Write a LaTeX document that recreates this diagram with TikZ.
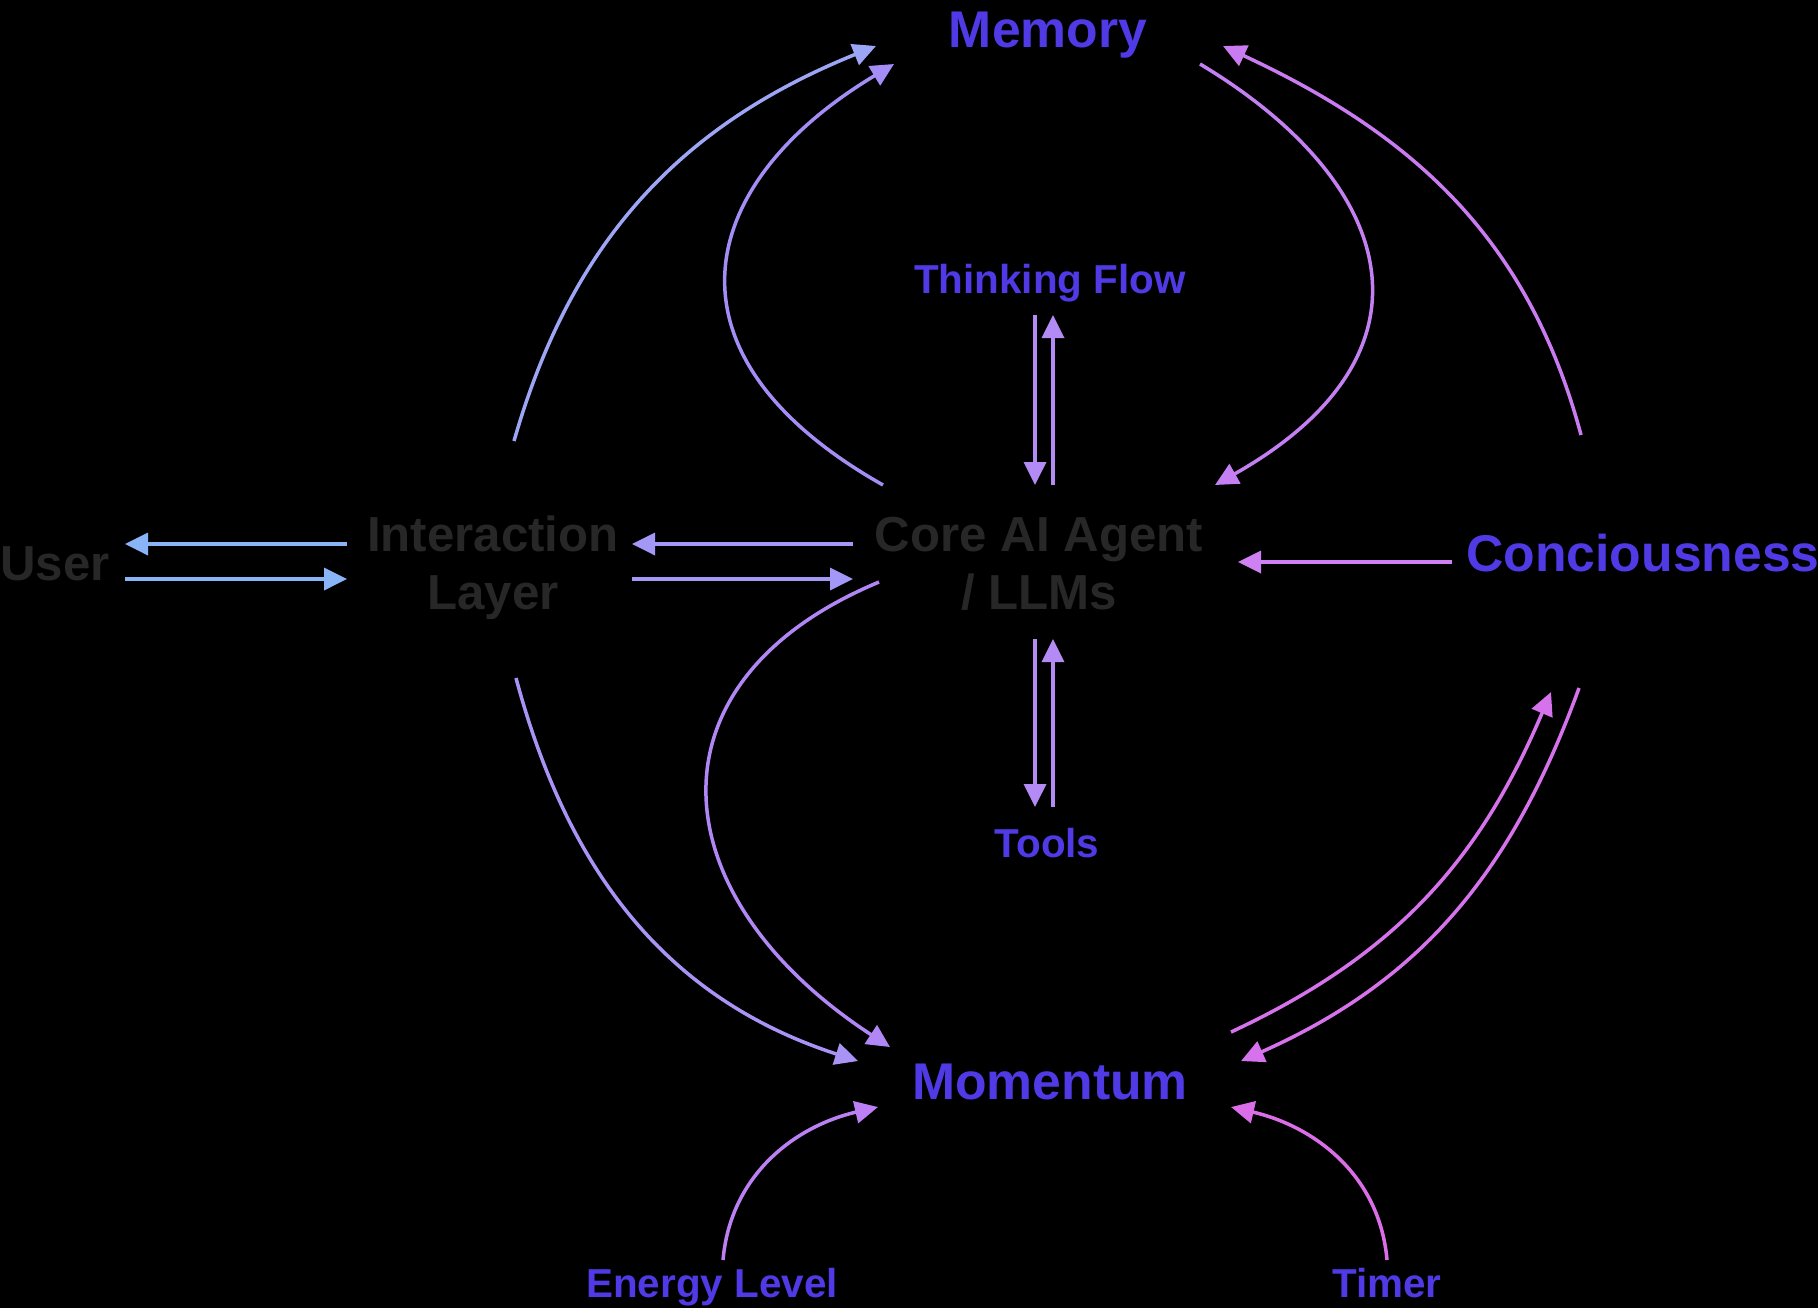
\documentclass[tikz,border=0pt]{standalone}
\usepackage{fontspec}
\setmainfont{Liberation Sans}
\usetikzlibrary{arrows.meta}
\definecolor{LabelBlue}{HTML}{4F3AE5}
\definecolor{AgentGray}{HTML}{272727}
\definecolor{UserBlue}{HTML}{8AB4F8}
\definecolor{InterMem}{HTML}{9DA5F6}
\definecolor{InterCore}{HTML}{A398F6}
\definecolor{InterMom}{HTML}{A993F5}
\definecolor{CoreMem}{HTML}{A48DF5}
\definecolor{CoreMom}{HTML}{B186F5}
\definecolor{ThinkLilac}{HTML}{B48AF5}
\definecolor{EnergyLilac}{HTML}{BC80F4}
\definecolor{MemCore}{HTML}{C480F3}
\definecolor{ConMem}{HTML}{CB7BF1}
\definecolor{ConCore}{HTML}{CF80F2}
\definecolor{ConPink}{HTML}{D672EC}
\definecolor{TimerPink}{HTML}{DC6DE8}

\tikzset{
  big/.style={font=\bfseries\fontsize{14.7}{17}\selectfont,text=LabelBlue,
    text height=10.5pt,text depth=0pt,inner sep=0pt},
  small/.style={font=\bfseries\fontsize{11.5}{13}\selectfont,text=LabelBlue,
    text height=8.2pt,text depth=0pt,inner sep=0pt},
  agent/.style={font=\bfseries\fontsize{14}{16.5}\selectfont,text=AgentGray,
    align=center,inner sep=0pt},
  flow/.style={line width=0.35mm,-{Triangle[length=2.3mm,width=2.2mm]}},
}

\begin{document}
\begin{tikzpicture}[x=0.1mm,y=0.1mm]
  \fill[black] (0,0) rectangle (1818,-1308);
  \useasboundingbox (0,0) rectangle (1818,-1308);

  % labels
  \node[agent,text height=10pt,text depth=0pt] (user) at (55,-563) {User};
  \node[agent] (inter) at (493,-568) {Interaction\\Layer};
  \node[agent] (core) at (1039,-564) {Core AI Agent\\/ LLMs};
  \node[big] (con) at (1643,-553) {Conciousness};
  \node[big] (memory) at (1048,-29) {Memory};
  \node[big] (momentum) at (1050,-1081) {Momentum};
  \node[small] (think) at (1050,-279) {Thinking Flow};
  \node[small] (tools) at (1047,-843) {Tools};
  \node[small] (energy) at (712,-1283) {Energy Level};
  \node[small] (timer) at (1387,-1283) {Timer};

  % straight pairs
  \draw[flow,UserBlue] ([shift={(-146,24)}]inter.center) -- ([shift={(70,19)}]user.center);
  \draw[flow,UserBlue] ([shift={(70,-16)}]user.center) -- ([shift={(-146,-11)}]inter.center);
  \draw[flow,InterCore] ([shift={(-186,20)}]core.center) -- ([shift={(139,24)}]inter.center);
  \draw[flow,InterCore] ([shift={(139,-11)}]inter.center) -- ([shift={(-186,-15)}]core.center);
  \draw[flow,ConCore] ([shift={(-191,-9)}]con.center) -- ([shift={(199,2)}]core.center);
  \draw[flow,ThinkLilac] ([shift={(-15,-36)}]think.center) -- ([shift={(-4,79)}]core.center);
  \draw[flow,ThinkLilac] ([shift={(14,79)}]core.center) -- ([shift={(3,-36)}]think.center);
  \draw[flow,ThinkLilac] ([shift={(-4,-75)}]core.center) -- ([shift={(-12,36)}]tools.center);
  \draw[flow,ThinkLilac] ([shift={(6,36)}]tools.center) -- ([shift={(14,-75)}]core.center);

  % arcs to memory
  \draw[flow,InterMem] ([shift={(21,127)}]inter.center) to[out=74,in=202] ([shift={(-172,-17)}]memory.center);
  \draw[flow,CoreMem] ([shift={(-156,79)}]core.center)
    .. controls +(-230,130) and +(-200,-120) .. ([shift={(-154,-35)}]memory.center);
  \draw[flow,MemCore] ([shift={(152,-35)}]memory.center)
    .. controls +(200,-120) and +(230,130) .. ([shift={(176,79)}]core.center);
  \draw[flow,ConMem] ([shift={(-62,118)}]con.center) to[out=105,in=-25] ([shift={(175,-17)}]memory.center);

  % arcs to momentum
  \draw[flow,InterMom] ([shift={(23,-110)}]inter.center) to[out=-75,in=162] ([shift={(-192,20)}]momentum.center);
  \draw[flow,CoreMom] ([shift={(-160,-18)}]core.center)
    .. controls +(-240,-100) and +(-230,150) .. ([shift={(-160,34)}]momentum.center);
  \draw[flow,ConPink] ([shift={(181,49)}]momentum.center) to[out=25,in=-113] ([shift={(-92,-139)}]con.center);
  \draw[flow,ConPink] ([shift={(-64,-135)}]con.center) to[out=-110,in=24] ([shift={(191,20)}]momentum.center);
  \draw[flow,EnergyLilac] ([shift={(11,23)}]energy.center) to[out=85,in=193] ([shift={(-172,-26)}]momentum.center);
  \draw[flow,TimerPink] ([shift={(0,23)}]timer.center) to[out=95,in=-13] ([shift={(181,-26)}]momentum.center);
\end{tikzpicture}
\end{document}
